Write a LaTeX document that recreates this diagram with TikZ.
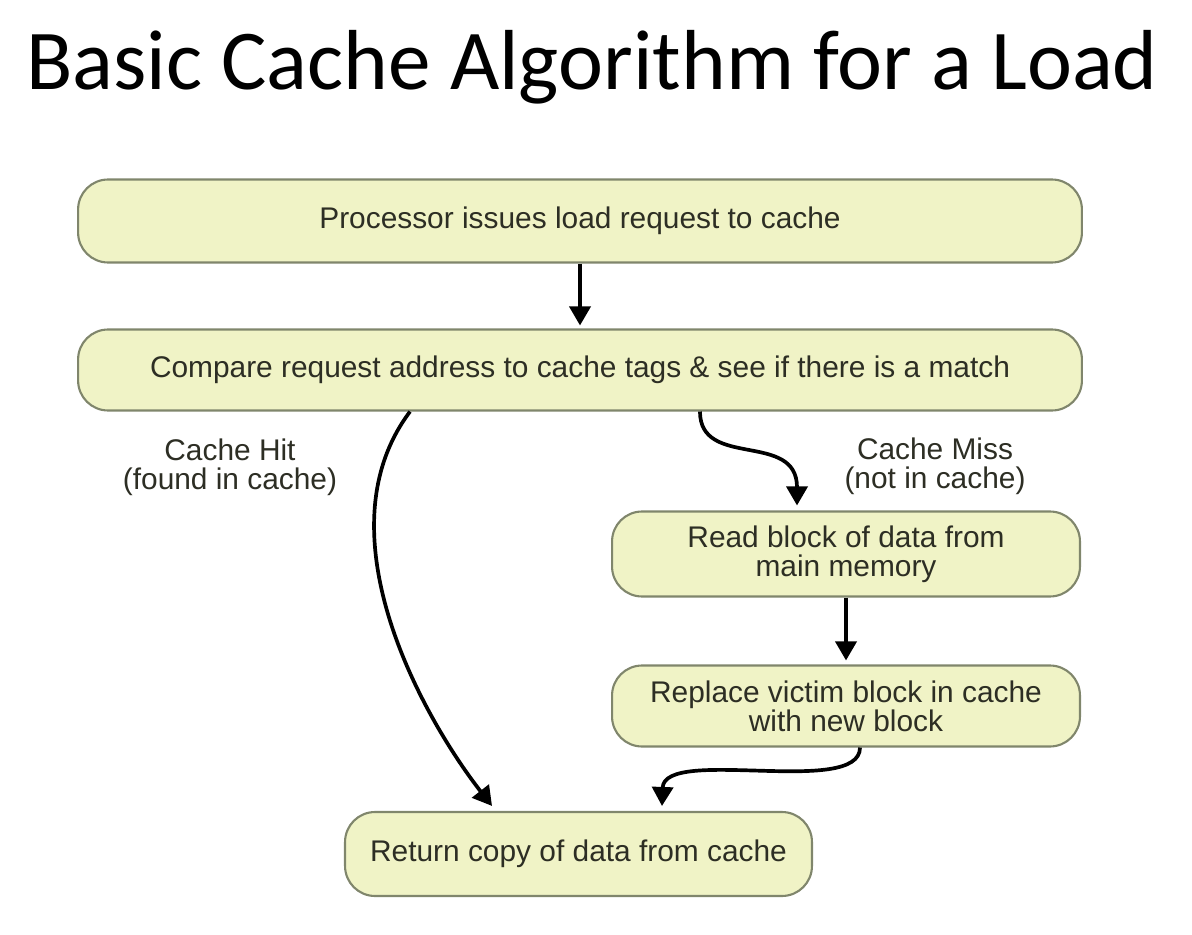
\documentclass[tikz,border=0pt]{standalone}
\usepackage{fontspec}
\setmainfont{Liberation Sans}
\newfontfamily\titlefont{Carlito}
\usetikzlibrary{arrows.meta,positioning,shapes}

\definecolor{boxfill}{RGB}{240,243,198}
\definecolor{boxline}{RGB}{128,134,108}
\definecolor{boxtext}{RGB}{45,46,36}

\tikzset{
  stepbox/.style={draw=boxline, line width=1.2pt, fill=boxfill,
    rounded corners=0.6cm, text=boxtext, align=center, inner sep=0pt,
    font=\fontsize{17}{16.5}\selectfont},
  flow/.style={line width=2.1pt, -{Triangle[length=0.38cm,width=0.42cm]}},
  branch/.style={text=boxtext, align=center,
    font=\fontsize{17}{16.5}\selectfont}
}

\begin{document}
\begin{tikzpicture}[x=0.02cm,y=-0.02cm]
    \useasboundingbox (0,0) rectangle (1192,935);

    \node [anchor=base, font=\titlefont\fontsize{48.5}{52}\selectfont]
      (title) at (592,90) {Basic Cache Algorithm for a Load};

    % flow chart boxes
    \node [stepbox, minimum width=20.08cm, minimum height=1.66cm]
      (proc) at (580,221) {Processor issues load request to cache};
    \node [stepbox, minimum width=20.08cm, minimum height=1.62cm]
      (cmp) at (580,370) {Compare request address to cache tags \& see if there is a match};
    \node [stepbox, minimum width=9.36cm, minimum height=1.7cm]
      (rd) at (846,554) {Read block of data from\\main memory};
    \node [stepbox, minimum width=9.36cm, minimum height=1.62cm]
      (rep) at (846,706) {Replace victim block in cache\\with new block};
    \node [stepbox, minimum width=9.34cm, minimum height=1.68cm]
      (ret) at (578.5,854) {Return copy of data from cache};

    \node [branch] (hit)  at (230,467) {Cache Hit\\(found in cache)};
    \node [branch] (miss) at (935,466) {Cache Miss\\(not in cache)};

    % connectors
    \draw [flow] (proc.south) -- ([yshift=0.06cm]cmp.north);
    \draw [flow] ([xshift=-3.4cm]cmp.south)
      to [out=233, in=128, out distance=3.05cm, in distance=2.2cm]
      ([xshift=-1.73cm, yshift=0.1cm]ret.north);
    \draw [flow] ([xshift=2.4cm]cmp.south)
      to [out=-90, in=90, out distance=1.16cm, in distance=1.5cm]
      ([xshift=-0.98cm, yshift=0.1cm]rd.north);
    \draw [flow] (rd.south) -- ([yshift=0.08cm]rep.north);
    \draw [flow] ([xshift=0.28cm]rep.south)
      to [out=-90, in=88, out distance=1.0cm, in distance=1.2cm]
      ([xshift=1.67cm, yshift=0.1cm]ret.north);
\end{tikzpicture}
\end{document}
